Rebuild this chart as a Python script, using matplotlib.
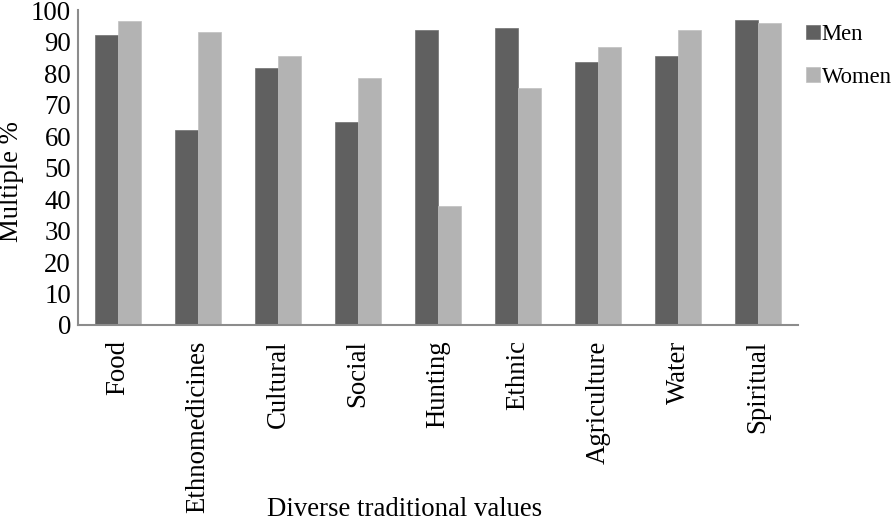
import matplotlib
matplotlib.use("Agg")
import matplotlib.pyplot as plt
import numpy as np

categories = ["Food", "Ethnomedicines", "Cultural", "Social", "Hunting",
              "Ethnic", "Agriculture", "Water", "Spiritual"]
men = [92, 62, 81.6, 64.6, 93.7, 94.3, 83.5, 85.5, 96.8]
women = [96.5, 92.9, 85.5, 78.4, 37.8, 75.2, 88.3, 93.5, 96.0]

plt.rcParams['font.family'] = ['Liberation Serif', 'DejaVu Serif']
FS = 19.3

fig = plt.figure(figsize=(8.94, 5.21), dpi=100)
ax = fig.add_axes([0.0872, 0.3762, 0.8054, 0.6046])

x = np.arange(len(categories))
w = 0.29
ax.bar(x - w/2, men, w, color='#606060', label='Men', edgecolor='#707070', linewidth=0.5)
ax.bar(x + w/2, women, w, color='#b3b3b3', label='Women', edgecolor='#c0c0c0', linewidth=0.5)

ax.set_xlim(-0.5, len(categories) - 0.5)
ax.set_ylim(0, 100)
ax.set_yticks(range(0, 101, 10))
ax.set_xticks(x)
ax.set_xticklabels(categories, rotation=90, fontsize=FS)
ax.tick_params(axis='y', length=0, labelsize=FS, pad=5)
ax.tick_params(axis='x', length=0, pad=11)

for s in ['top', 'right']:
    ax.spines[s].set_visible(False)
for s in ['left', 'bottom']:
    ax.spines[s].set_color('#8c8c8c')
    ax.spines[s].set_linewidth(1.5)

fig.text(12/894, 1 - 182/521, "Multiple %", fontsize=FS, rotation=90,
         ha='center', va='center')
fig.text(405/894, 1 - 510/521, "Diverse traditional values", fontsize=FS,
         ha='center', va='center')

handles, labels = ax.get_legend_handles_labels()
fig.legend(handles, labels, loc='upper left', bbox_to_anchor=(806/894, 1 - 24/521),
           frameon=False, fontsize=16.3, handlelength=0.6, handleheight=0.6,
           handletextpad=0.1, labelspacing=0.95, borderaxespad=0.0, borderpad=0.0)

fig.savefig("out.png", dpi=100)
